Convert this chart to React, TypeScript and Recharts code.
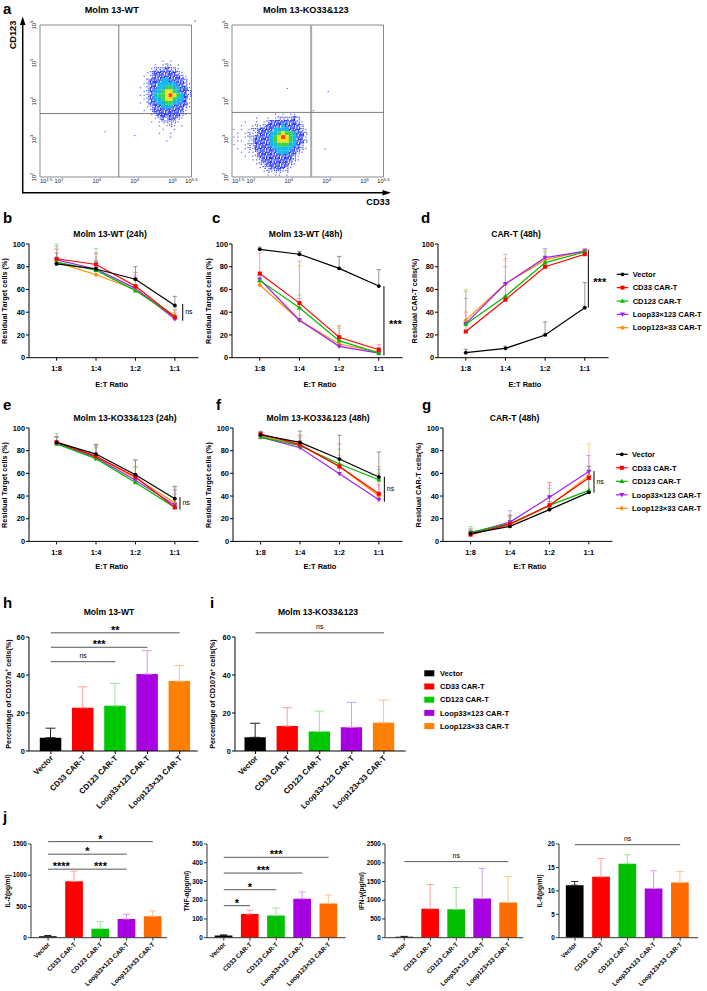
import React from 'react'
import {
  ScatterChart,
  Scatter,
  LineChart,
  Line,
  BarChart,
  Bar,
  XAxis,
  YAxis,
  ErrorBar,
  ReferenceLine,
  ReferenceArea,
} from 'recharts'

const FONT = '"Liberation Sans", Arial, Helvetica, sans-serif'

const RATIOS = ['1:8', '1:4', '1:2', '1:1']
const GROUPS = ['Vector', 'CD33 CAR-T', 'CD123 CAR-T', 'Loop33×123 CAR-T', 'Loop123×33 CAR-T']
const KEYS = ['vec', 'cd33', 'cd123', 'l33', 'l123']

// ---- a: flow density, one char per 0.1 decade cell
// ' ' empty, '.' sparse, ':' scattered, b blue, c cyan, g green, y yellow, r red
const WT_ORIGIN = [3.95, 5.05]
const WT_GRID = [
  '        . .     ',
  '      . .:. .   ',
  '     .:::b::.   ',
  '    .:bbbbbb:.  ',
  '   . :bbbbbbb:. ',
  '    :bbbccbbbb: ',
  '   .:bbcccccbb:.',
  '  . :bbccggccbb.',
  '   .:bccgyygcbb:',
  '  ..:bcggyrygcb:',
  '   .:bccgyygccb.',
  '  . :bbccggccbb.',
  '    .:bbcccbbb:.',
  '   . :bbbbbbbb. ',
  '     .:bbbbbb:. ',
  '      .:b:bb:.  ',
  '     . .::::.   ',
  '       . .:. .  ',
  '        .  .    ',
  '       .  .     ',
  '          .     ',
  '         .      ',
]
const WT_STRAY = [[3.22, 3.19], [4.0, 3.09]]
const WT_GATE = [3.58, 3.67]

const KO_ORIGIN = [1.55, 3.65]
const KO_GRID = [
  '           . . ..   ',
  '      .  . .::::b:  ',
  '   .  . .:bbbbbbb:. ',
  '  .  .:.:bbbbcbbbb: ',
  '. . .::bbbbccccbbb:.',
  ' . .:.:bbbccgyggcbb:',
  '.. .::bbbbcgyrygcbb.',
  ' .. .:bbbbcgyyygcbb:',
  '.  .::bbbbccgggccb: ',
  ' . .:.bbbbbcccccbb:.',
  '  . ..:bbbbbcccbb:. ',
  '   . .:bbbbbbbbb:.  ',
  '     ..:bbbbbbbb:.  ',
  '      .::bbbbbb:.   ',
  '       .::bbbb:.    ',
  '        .:.::.:     ',
  '         . .. .     ',
]
const KO_STRAY = [[2.96, 4.33], [4.04, 4.25], [3.65, 3.75], [3.96, 2.74]]
const KO_GATE = [3.59, 3.7]

// ---- b-g: residual cells, rows in GROUPS order, columns in RATIOS order
const WT24_MEAN = [
  [82.5, 78, 69, 46],
  [87, 82, 63, 35.5],
  [84, 77, 59, 36],
  [86, 78, 61, 34],
  [84, 73, 60, 37],
]
const WT24_SD = [
  [9.5, 7, 11, 8],
  [8, 10, 12, 6.5],
  [16, 19, 11, 8],
  [12, 14, 11, 6],
  [12, 13, 15, 5],
]
const WT48_MEAN = [
  [95.3, 91, 78.6, 63],
  [74, 48, 18, 7],
  [68, 44, 15, 4],
  [69, 33, 10, 4],
  [64, 33, 12, 5],
]
const WT48_SD = [
  [2, 2.5, 10.5, 14.5],
  [18, 37, 10, 4.5],
  [4, 11, 11, 5],
  [3, 19, 5, 2],
  [2, 48, 16, 4],
]
const CART48_MEAN = [
  [4.4, 8.2, 20, 44],
  [23, 51, 80, 91],
  [29.4, 54, 83.6, 93],
  [30, 65, 88, 93.5],
  [33, 65, 86, 94],
]
const CART48_SD = [
  [3, 2, 11.5, 22],
  [17, 36, 8, 3],
  [29, 37, 11, 2],
  [22, 15, 8, 2.5],
  [27, 20, 7, 2],
]
const KO24_MEAN = [
  [87.3, 77, 58.8, 37.6],
  [87.5, 75, 57, 30],
  [86, 73, 52, 30],
  [86.5, 74, 54, 32],
  [87, 75, 56, 34],
]
const KO24_SD = [
  [5, 8, 13, 11],
  [4, 10, 15, 12],
  [9, 12, 14, 16],
  [6, 9, 12, 13],
  [5, 11, 9, 14],
]
const KO48_MEAN = [
  [94, 87.3, 72.6, 56.8],
  [94.7, 85.3, 66, 42],
  [92, 84.4, 68.2, 54.4],
  [92, 82.6, 59.7, 36.8],
  [93, 85, 66, 40],
]
const KO48_SD = [
  [3, 10, 21, 22],
  [2, 8, 20, 18],
  [3, 7, 13, 9],
  [2, 6, 6, 13],
  [3, 9, 10, 26],
]
const KOCART_MEAN = [
  [6.8, 13.2, 28, 43.2],
  [5.9, 15.3, 31.8, 56],
  [8, 15.6, 31.8, 45],
  [7.4, 17, 39, 61.7],
  [6.8, 14.7, 31.5, 58],
]
const KOCART_SD = [
  [3, 10, 7, 23],
  [4, 6, 20, 10],
  [5, 7, 15, 12],
  [4, 10, 13, 14],
  [3, 8, 18, 28],
]

// significance brackets: x (in ratio index units), low, high, text
const WT24_SIG = { x: 3.2, lo: 32.5, hi: 47.2, text: 'ns' }
const WT48_SIG = { x: 3.13, lo: 2, hi: 63, text: '***' }
const CART48_SIG = { x: 3.09, lo: 44, hi: 95, text: '***' }
const KO24_SIG = { x: 3.13, lo: 28, hi: 39, text: 'ns' }
const KO48_SIG = { x: 3.14, lo: 35, hi: 57, text: 'ns' }
const KOCART_SIG = { x: 3.13, lo: 43, hi: 62, text: 'ns' }

// ---- h-j: bars in GROUPS order
const CD107_WT = [7, 22.8, 23.8, 40.5, 36.8]
const CD107_WT_SD = [5, 11, 11.8, 12.3, 8.2]
const CD107_KO = [7.2, 13.2, 10.2, 12.5, 14.9]
const CD107_KO_SD = [7.4, 9.6, 10.8, 13.1, 11.9]
const IL2 = [25, 905, 145, 300, 345]
const IL2_SD = [10, 160, 110, 75, 85]
const TNF = [12, 127, 118, 208, 183]
const TNF_SD = [3, 20, 40, 36, 44]
const IFN = [25, 775, 760, 1045, 940]
const IFN_SD = [10, 645, 580, 805, 690]
const IL6 = [11.2, 13, 15.8, 10.5, 11.8]
const IL6_SD = [0.8, 3.9, 1.9, 3.8, 2.3]

// [from group, to group, y, text]
const CD107_WT_SIG: any[] = [[0, 2, 47, 'ns'], [0, 3, 54.6, '***'], [0, 4, 62.2, '**']]
const CD107_KO_SIG: any[] = [[0, 4, 62.2, 'ns']]
const IL2_SIG: any[] = [[0, 4, 1538, '*'], [0, 3, 1337, '*'], [0, 1, 1097, '****'], [1, 3, 1097, '***']]
const TNF_SIG: any[] = [[0, 4, 429, '***'], [0, 3, 345, '***'], [0, 2, 256, '*'], [0, 1, 171, '*']]
const IFN_SIG: any[] = [[0, 4, 2030, 'ns']]
const IL6_SIG: any[] = [[0, 4, 19.85, 'ns']]

const LINE_STYLE = [
  { color: '#000000', err: '#8a8a8a', shape: 'circle' },
  { color: '#ff0000', err: '#ff9a9a', shape: 'square' },
  { color: '#00b800', err: '#8ede8e', shape: 'tri' },
  { color: '#a020f0', err: '#d294f2', shape: 'triDown' },
  { color: '#ff8c00', err: '#ffc37a', shape: 'diamond' },
]
const BAR_COLORS = ['#000000', '#ff0000', '#00c800', '#a800e0', '#ff8000']
const BAR_COLORS_J = ['#000000', '#ff0000', '#00c000', '#a800e0', '#ff6a00']
const BAR_ERR = ['#222222', '#ffa0a0', '#98e698', '#d69af0', '#ffc48a']

const DENS: Record<string, string> = {
  '.': '#5566ff',
  ':': '#2d3fff',
  b: '#1c2cff',
  c: '#12b8e8',
  g: '#3ad24c',
  y: '#f0e21c',
  r: '#ff3c12',
}

// 3x3 speckle masks for the blue cells, so they read as dots and not as a solid block
const SPECKLE = ['110101111', '101111010', '111010110', '011110101']

const PAD = { l: 40, t: 26, r: 26, b: 70 }
const YW = 30
const XH = 60

function frame(x0: number, y0: number, x1: number, y1: number) {
  return {
    style: { position: 'absolute' as const, left: x0 - PAD.l, top: y0 - PAD.t },
    width: x1 - x0 + PAD.l + PAD.r,
    height: y1 - y0 + PAD.t + PAD.b,
    margin: { top: PAD.t, right: PAD.r, bottom: PAD.b - XH, left: PAD.l - YW },
  }
}

function gridPoints(grid: string[], origin: number[], stray: number[][]) {
  const pts: any[] = []
  grid.forEach((row, j) => {
    for (let i = 0; i < row.length; i++) {
      const c = row[i]
      if (c !== ' ')
        pts.push({ x: +(origin[0] + 0.1 * i).toFixed(2), y: +(origin[1] - 0.1 * j).toFixed(2), lv: c, k: (i + 2 * j) % 4 })
    }
  })
  stray.forEach(([x, y]) => pts.push({ x, y, lv: '.', k: 0 }))
  return pts
}

function DensityDot(p: any) {
  const { cx, cy, payload } = p
  const col = DENS[payload.lv]
  if (payload.lv === '.') return <rect x={cx - 0.6} y={cy - 0.6} width={1.2} height={1.2} fill={col} />
  if (payload.lv === ':')
    return (
      <g fill={col}>
        <rect x={cx - 1.6} y={cy - 1.5} width={1.2} height={1.2} />
        <rect x={cx + 0.3} y={cy + 0.3} width={1.2} height={1.2} />
        <rect x={cx + 0.4} y={cy - 1.5} width={1.1} height={1.1} />
      </g>
    )
  if (payload.lv === 'b') {
    const mask = SPECKLE[payload.k]
    const cells = []
    for (let n = 0; n < 9; n++) {
      if (mask[n] === '1')
        cells.push(<rect key={n} x={cx - 1.95 + (n % 3) * 1.3} y={cy - 1.95 + Math.floor(n / 3) * 1.3} width={1.3} height={1.3} />)
    }
    return <g fill={col}>{cells}</g>
  }
  return <rect x={cx - 1.95} y={cy - 1.95} width={3.9} height={3.9} fill={col} />
}

function LogTickX(p: any) {
  const v = p.payload.value
  const exp = Number.isInteger(v) ? String(v) : v.toFixed(1)
  return (
    <text x={p.x} y={p.y + 5.3} textAnchor={v === 1.5 ? 'start' : 'middle'} fontSize={5.8} fill="#222">
      10<tspan dy={-2.4} fontSize={4.2}>{exp}</tspan>
    </text>
  )
}

function LogTickY(p: any) {
  const v = p.payload.value
  return (
    <text x={p.x} y={p.y} transform={`rotate(-90 ${p.x} ${p.y})`} textAnchor="middle" fontSize={5.8} fill="#222">
      10<tspan dy={-2.4} fontSize={4.2}>{v}</tspan>
    </text>
  )
}

function FlowPlot({ x0, grid, origin, stray, gate, vGate }: any) {
  const f = frame(x0, 25, x0 + 151.5, 177)
  const pts = gridPoints(grid, origin, stray)
  return (
    <div style={f.style}>
      <ScatterChart width={f.width} height={f.height} margin={f.margin}>
        <XAxis type="number" dataKey="x" domain={[1.5, 5.5]} ticks={[1.5, 2, 3, 4, 5, 5.5]} interval={0}
          allowDataOverflow height={XH} axisLine={false} tickLine={false} tickSize={0} tickMargin={1} tick={<LogTickX />} />
        <YAxis type="number" dataKey="y" domain={[2, 6]} ticks={[2, 3, 4, 5, 6]} interval={0}
          allowDataOverflow width={YW} axisLine={false} tickLine={false} tickSize={0} tickMargin={4.3} tick={<LogTickY />} />
        <Scatter data={pts} shape={(p: any) => <DensityDot {...p} />} isAnimationActive={false} />
        <ReferenceArea x1={1.5} x2={5.5} y1={2} y2={6} fill="none" stroke="#8a8a8a" strokeWidth={1} ifOverflow="visible" />
        <ReferenceLine x={gate[0]} stroke={vGate} strokeWidth={vGate === '#aaaaaa' ? 2 : 1} />
        <ReferenceLine y={gate[1]} stroke="#7a7a7a" />
      </ScatterChart>
    </div>
  )
}

function Marker({ cx, cy, shape, color }: any) {
  if (cx == null || cy == null) return null
  switch (shape) {
    case 'square':
      return <rect x={cx - 2} y={cy - 2} width={4} height={4} fill={color} />
    case 'tri':
      return <polygon points={`${cx},${cy - 2.6} ${cx + 2.5},${cy + 1.8} ${cx - 2.5},${cy + 1.8}`} fill={color} />
    case 'triDown':
      return <polygon points={`${cx},${cy + 2.6} ${cx + 2.5},${cy - 1.8} ${cx - 2.5},${cy - 1.8}`} fill={color} />
    case 'diamond':
      return <polygon points={`${cx},${cy - 2.5} ${cx + 2.2},${cy} ${cx},${cy + 2.5} ${cx - 2.2},${cy}`} fill={color} />
    default:
      return <circle cx={cx} cy={cy} r={1.9} fill={color} />
  }
}

function SigLabel({ viewBox, text, side }: any) {
  if (!viewBox) return null
  const { x, y, width, height } = viewBox
  const star = text !== 'ns'
  const st = { fontSize: star ? 11 : 7, fontWeight: star ? 700 : 400, fill: '#000' }
  if (side === 'right') {
    const mid = y + height / 2
    return <text x={x + width + (star ? 5 : 2.5)} y={mid + (star ? 7.5 : 2)} {...st}>{text}</text>
  }
  return <text x={x + width / 2} y={y + (star ? 1 : -4)} textAnchor="middle" {...st}>{text}</text>
}

function lineRows(mean: number[][], sd: number[][]) {
  return RATIOS.map((_, i) => {
    const row: any = { x: i }
    KEYS.forEach((k, s) => {
      row[k] = mean[s][i]
      row[k + 'E'] = [0, sd[s][i]]
    })
    return row
  })
}

const TICK = { fontSize: 7.4, fontWeight: 700, fill: '#000' }

function LinePanel({ box, mean, sd, sig }: any) {
  const f = frame(box[0], box[1], box[2], box[3])
  const rows = lineRows(mean, sd)
  return (
    <div style={f.style}>
      <LineChart width={f.width} height={f.height} margin={f.margin} data={rows}>
        <XAxis type="number" dataKey="x" domain={[-0.7, 3.6]} ticks={[0, 1, 2, 3]} interval={0} allowDataOverflow
          height={XH} stroke="#000" tickSize={3} tickMargin={5} tick={TICK} tickFormatter={(i: number) => RATIOS[i]} />
        <YAxis domain={[0, 100]} ticks={[0, 20, 40, 60, 80, 100]} interval={0} allowDataOverflow width={YW}
          stroke="#000" tickSize={3} tickMargin={1} tick={TICK} />
        {[4, 3, 2, 1, 0].map((s) => {
          const st = LINE_STYLE[s]
          return (
            <Line key={KEYS[s]} dataKey={KEYS[s]} stroke={st.color} strokeWidth={1.2} isAnimationActive={false}
              activeDot={false}
              dot={(p: any) => <Marker key={`${KEYS[s]}-${p.index}`} cx={p.cx} cy={p.cy} shape={st.shape} color={st.color} />}>
              <ErrorBar dataKey={KEYS[s] + 'E'} direction="y" width={2.2} stroke={st.err} strokeWidth={0.9} />
            </Line>
          )
        })}
        <ReferenceLine segment={[{ x: sig.x, y: sig.lo }, { x: sig.x, y: sig.hi }]} stroke="#000" strokeWidth={1}
          ifOverflow="visible" label={<SigLabel text={sig.text} side="right" />} />
      </LineChart>
    </div>
  )
}

function SlantTick(p: any) {
  const fs = p.fs
  const ax = p.x + fs * 0.35
  const ay = p.y + fs * 0.35
  return (
    <text x={ax} y={ay} transform={`rotate(-45 ${ax} ${ay})`} textAnchor="end" fontSize={fs} fontWeight={700} fill="#000">
      {p.payload.value}
    </text>
  )
}

function BarPanel({ box, padL, padR, domain, ticks, mean, sd, colors, barSize, capW, tickFs, yFs, sigs, axis }: any) {
  const f = frame(box[0], box[1], box[2], box[3])
  const rows = GROUPS.map((g, i) => {
    const r: any = { name: g }
    GROUPS.forEach((_, s) => {
      r['v' + s] = s === i ? mean[i] : 0
      r['e' + s] = s === i ? [0, sd[i]] : null
    })
    return r
  })
  const yTick = { fontSize: yFs, fontWeight: 700, fill: '#000' }
  return (
    <div style={f.style}>
      <BarChart width={f.width} height={f.height} margin={f.margin} data={rows} barSize={barSize}>
        <XAxis dataKey="name" type="category" interval={0} height={XH} padding={{ left: padL, right: padR }}
          stroke={axis} tickSize={3} tickMargin={2} tick={<SlantTick fs={tickFs} />} />
        <YAxis domain={domain} ticks={ticks} interval={0} allowDataOverflow width={YW} stroke={axis}
          tickSize={3} tickMargin={1.2} tick={yTick} />
        {GROUPS.map((g, s) => (
          <Bar key={g} dataKey={'v' + s} stackId="a" fill={colors[s]} isAnimationActive={false}>
            <ErrorBar dataKey={'e' + s} direction="y" width={capW} stroke={BAR_ERR[s]} strokeWidth={1} />
          </Bar>
        ))}
        {sigs.map((sg: any, k: number) => (
          <ReferenceLine key={k} segment={[{ x: GROUPS[sg[0]], y: sg[2] }, { x: GROUPS[sg[1]], y: sg[2] }]}
            stroke="#555" strokeWidth={1} ifOverflow="visible" label={<SigLabel text={sg[3]} side="top" />} />
        ))}
      </BarChart>
    </div>
  )
}

function VText({ x, y, size, children }: any) {
  return (
    <text x={x} y={y} transform={`rotate(-90 ${x} ${y})`} textAnchor="middle" fontSize={size} fontWeight={700} fill="#000">
      {children}
    </text>
  )
}

function Overlay() {
  const letters: any[] = [
    ['a', 3, 14], ['b', 3, 222.7], ['c', 212, 222.7], ['d', 421, 222.7], ['e', 3, 410], ['f', 216, 410],
    ['g', 422, 410], ['h', 3, 608], ['i', 210, 608], ['j', 3, 822],
  ]
  const titles: any[] = [
    ['Molm 13-WT', 111.7, 12.8, 9.2], ['Molm 13-KO33&123', 305.8, 12.8, 9.2],
    ['Molm 13-WT (24h)', 110, 237, 8.6], ['Molm 13-WT (48h)', 305.5, 237, 8.6], ['CAR-T (48h)', 516, 237, 8.6],
    ['Molm 13-KO33&123 (24h)', 125, 421, 8.6], ['Molm 13-KO33&123 (48h)', 318, 421, 8.6], ['CAR-T (48h)', 514.5, 421, 8.6],
    ['Molm 13-WT', 109, 614.5, 8.6], ['Molm 13-KO33&123', 318, 614.5, 8.6],
    ['E:T Ratio', 111.7, 386.8, 7.5], ['E:T Ratio', 320, 386.8, 7.5], ['E:T Ratio', 525, 386.8, 7.5],
    ['E:T Ratio', 111.7, 569.4, 7.5], ['E:T Ratio', 320, 569.4, 7.5], ['E:T Ratio', 530, 569.4, 7.5],
    ['CD33', 378, 205.2, 9.2],
  ]
  const yLabels: any[] = [
    ['Residual Target cells (%)', 7.4, 301], ['Residual Target cells (%)', 210.7, 301], ['Residual CAR-T cells(%)', 416.7, 301],
    ['Residual Target cells (%)', 7.4, 485], ['Residual Target cells (%)', 210.7, 485], ['Residual CAR-T cells(%)', 420.7, 485],
  ]
  const jLabels: any[] = [['IL-2(pg/ml)', 9.5, 891], ['TNF-α(pg/ml)', 188.5, 891], ['IFN-γ(pg/ml)', 364, 891], ['IL-6(pg/ml)', 542.2, 891]]
  const lineLegends: any[] = [[616.7, 274.3, 13.35], [616, 454.3, 13.5]]
  return (
    <svg width={707} height={991} style={{ position: 'absolute', left: 0, top: 0, fontFamily: FONT, pointerEvents: 'none' }}>
      {letters.map(([t, x, y]) => (
        <text key={t} x={x} y={y} fontSize={15} fontWeight={700} fill="#000">{t}</text>
      ))}
      {titles.map(([t, x, y, s], k) => (
        <text key={k} x={x} y={y} textAnchor="middle" fontSize={s} fontWeight={700} fill="#000">{t}</text>
      ))}
      <VText x={16} y={35} size={9.2}>CD123</VText>
      <text x={194} y={24} fontSize={5} fill="#444">*</text>
      {yLabels.map(([t, x, y], k) => (
        <VText key={k} x={x} y={y} size={7.3}>{t}</VText>
      ))}
      {[10.7, 215.4].map((x) => (
        <text key={x} x={x} y={694} transform={`rotate(-90 ${x} 694)`} textAnchor="middle" fontSize={7.3} fontWeight={700} fill="#000">
          Percentage of CD107a<tspan dy={-2.6} fontSize={5}>+</tspan><tspan dy={2.6}> cells(%)</tspan>
        </text>
      ))}
      {jLabels.map(([t, x, y], k) => (
        <VText key={k} x={x} y={y} size={6.5}>{t}</VText>
      ))}
      {/* big axes of panel a */}
      <line x1={22.7} y1={193.4} x2={22.7} y2={23} stroke="#000" strokeWidth={1.5} />
      <polygon points="22.7,16.5 19.9,25 25.5,25" fill="#000" />
      <line x1={22} y1={192.7} x2={384} y2={192.7} stroke="#000" strokeWidth={1.5} />
      <polygon points="391,192.7 382.5,189.9 382.5,195.5" fill="#000" />
      {lineLegends.map(([x, y0, step], L) => (
        <g key={L}>
          {GROUPS.map((g, i) => {
            const cy = y0 + i * step
            const st = LINE_STYLE[i]
            return (
              <g key={g}>
                <line x1={x} x2={x + 11.6} y1={cy} y2={cy} stroke={st.color} strokeWidth={1.2} />
                <Marker cx={x + 5.8} cy={cy} shape={st.shape} color={st.color} />
                <text x={x + 16} y={cy + 2.7} fontSize={7.5} fontWeight={700} fill="#000">{g}</text>
              </g>
            )
          })}
        </g>
      ))}
      {GROUPS.map((g, i) => {
        const cy = 673.3 + i * 13.2
        return (
          <g key={g}>
            <rect x={424.3} y={cy - 3} width={10} height={6} fill={BAR_COLORS[i]} />
            <text x={440} y={cy + 2.7} fontSize={7.5} fontWeight={700} fill="#000">{g}</text>
          </g>
        )
      })}
    </svg>
  )
}

export default function App() {
  return (
    <div style={{ position: 'absolute', left: 0, top: 0, width: 707, height: 991, background: '#fff', fontFamily: FONT, overflow: 'hidden' }}>
      <FlowPlot x0={39.5} grid={WT_GRID} origin={WT_ORIGIN} stray={WT_STRAY} gate={WT_GATE} vGate="#7a7a7a" />
      <FlowPlot x0={232} grid={KO_GRID} origin={KO_ORIGIN} stray={KO_STRAY} gate={KO_GATE} vGate="#aaaaaa" />

      <LinePanel box={[29.1, 244, 198.6, 357.7]} mean={WT24_MEAN} sd={WT24_SD} sig={WT24_SIG} />
      <LinePanel box={[232.2, 244, 402.8, 357.7]} mean={WT48_MEAN} sd={WT48_SD} sig={WT48_SIG} />
      <LinePanel box={[438.2, 244, 608.8, 357.7]} mean={CART48_MEAN} sd={CART48_SD} sig={CART48_SIG} />
      <LinePanel box={[29.1, 428.3, 198.6, 541.7]} mean={KO24_MEAN} sd={KO24_SD} sig={KO24_SIG} />
      <LinePanel box={[233.1, 428.3, 402.6, 541.7]} mean={KO48_MEAN} sd={KO48_SD} sig={KO48_SIG} />
      <LinePanel box={[443.4, 428.3, 612.9, 541.7]} mean={KOCART_MEAN} sd={KOCART_SD} sig={KOCART_SIG} />

      <BarPanel box={[29.3, 637, 198, 751]} padL={5.8} padR={1.9} domain={[0, 60]} ticks={[0, 20, 40, 60]}
        mean={CD107_WT} sd={CD107_WT_SD} colors={BAR_COLORS} barSize={21.5} capW={5} tickFs={7.8} yFs={7.4}
        sigs={CD107_WT_SIG} axis="#000" />
      <BarPanel box={[235, 637, 405.7, 751]} padL={4.5} padR={5.7} domain={[0, 60]} ticks={[0, 20, 40, 60]}
        mean={CD107_KO} sd={CD107_KO_SD} colors={BAR_COLORS} barSize={21.3} capW={5} tickFs={7.8} yFs={7.4}
        sigs={CD107_KO_SIG} axis="#000" />

      <BarPanel box={[30.7, 844.3, 166.7, 938]} padL={4} padR={1} domain={[0, 1500]} ticks={[0, 500, 1000, 1500]}
        mean={IL2} sd={IL2_SD} colors={BAR_COLORS_J} barSize={17.7} capW={3.5} tickFs={6.4} yFs={6.3}
        sigs={IL2_SIG} axis="#333" />
      <BarPanel box={[206.5, 844.3, 345, 938]} padL={3.7} padR={3.8} domain={[0, 500]} ticks={[0, 100, 200, 300, 400, 500]}
        mean={TNF} sd={TNF_SD} colors={BAR_COLORS_J} barSize={17.7} capW={3.5} tickFs={6.4} yFs={6.3}
        sigs={TNF_SIG} axis="#333" />
      <BarPanel box={[385, 844.3, 523.3, 938]} padL={6.3} padR={2} domain={[0, 2500]} ticks={[0, 500, 1000, 1500, 2000, 2500]}
        mean={IFN} sd={IFN_SD} colors={BAR_COLORS_J} barSize={17.7} capW={3.5} tickFs={6.4} yFs={6.3}
        sigs={IFN_SIG} axis="#333" />
      <BarPanel box={[559.3, 844.3, 698.3, 938]} padL={2.85} padR={4.65} domain={[0, 20]} ticks={[0, 5, 10, 15, 20]}
        mean={IL6} sd={IL6_SD} colors={BAR_COLORS_J} barSize={17.7} capW={3.5} tickFs={6.4} yFs={6.3}
        sigs={IL6_SIG} axis="#333" />

      <Overlay />
    </div>
  )
}
